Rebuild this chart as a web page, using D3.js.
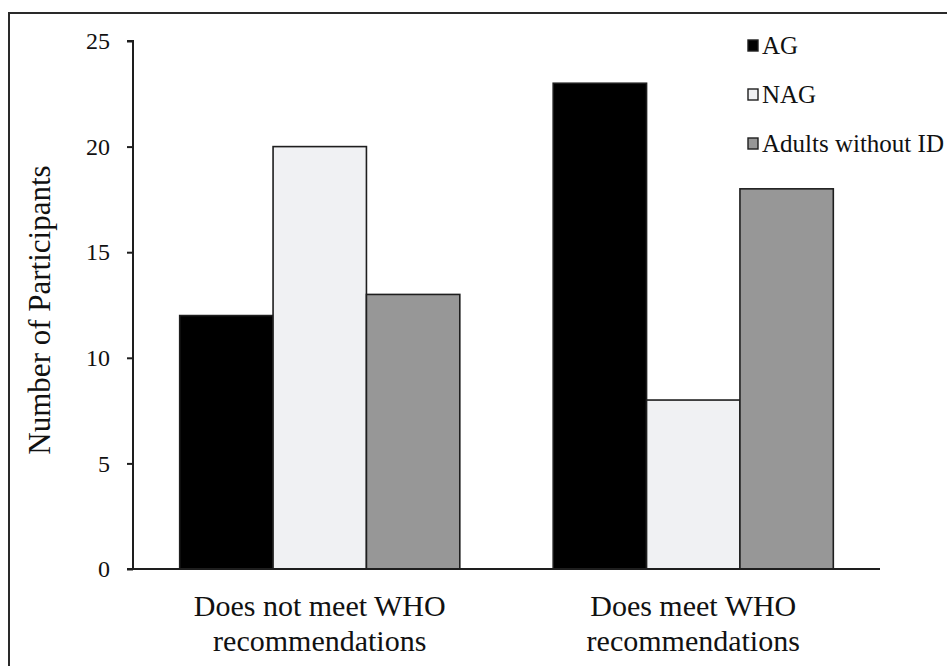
<!DOCTYPE html>
<html>
<head>
<meta charset="utf-8">
<script src="https://cdn.jsdelivr.net/npm/d3@7"></script>
<style>
  html, body { margin: 0; padding: 0; background: #fff; }
  svg text { font-family: "Liberation Serif", "Times New Roman", Times, "DejaVu Serif", serif; }
</style>
</head>
<body>
<div id="chart"></div>
<script>
// --- data ---
const categories = [
  ["Does not meet WHO", "recommendations"],
  ["Does meet WHO", "recommendations"]
];
const seriesNames = ["AG", "NAG", "Adults without ID"];
const agValues = [12, 23];
const nagValues = [20, 8];
const adultsValues = [13, 18];
const yTicks = [0, 5, 10, 15, 20, 25];

const colors = {
  "AG": "#000000",
  "NAG": "#f0f1f3",
  "Adults without ID": "#979797"
};

const W = 947, H = 666;
const padL = 133, padR = 880, padT = 41, padB = 569;
const serif = "'Liberation Serif', 'Times New Roman', Times, 'DejaVu Serif', serif";

const svg = d3.select("#chart").append("svg")
  .attr("width", W)
  .attr("height", H);

// outer frame (runs off the bottom/right edge like the source)
svg.append("rect")
  .attr("x", 9).attr("y", 13)
  .attr("width", W + 20).attr("height", H + 20)
  .attr("fill", "none")
  .attr("stroke", "#2a2a2a")
  .attr("stroke-width", 2);

const catKeys = categories.map(c => c.join(" "));
const x0 = d3.scaleBand()
  .domain(catKeys)
  .range([padL, padR])
  .paddingInner(0.25)
  .paddingOuter(0.125);
const x1 = d3.scaleBand()
  .domain(seriesNames)
  .range([0, x0.bandwidth()]);
const y = d3.scaleLinear().domain([0, 25]).range([padB, padT]);

const rows = catKeys.map((k, i) => ({
  key: k,
  values: [
    { name: "AG", v: agValues[i] },
    { name: "NAG", v: nagValues[i] },
    { name: "Adults without ID", v: adultsValues[i] }
  ]
}));

// bars
const groups = svg.append("g").selectAll("g")
  .data(rows)
  .join("g")
  .attr("transform", d => `translate(${x0(d.key)},0)`);

groups.selectAll("rect")
  .data(d => d.values)
  .join("rect")
  .attr("x", d => x1(d.name))
  .attr("y", d => y(d.v))
  .attr("width", x1.bandwidth())
  .attr("height", d => y(0) - y(d.v))
  .attr("fill", d => colors[d.name])
  .attr("stroke", "#1e1e1e")
  .attr("stroke-width", 1.6);

// y axis
const yAxis = svg.append("g")
  .attr("transform", `translate(${padL},0)`)
  .call(d3.axisLeft(y).tickValues(yTicks).tickSize(6).tickPadding(17));
yAxis.attr("font-family", serif);
yAxis.select(".domain").attr("stroke", "#1e1e1e").attr("stroke-width", 2)
  .attr("d", `M-6,${padT}H0V${padB}`);
yAxis.selectAll(".tick line").attr("stroke", "#1e1e1e").attr("stroke-width", 2);
yAxis.selectAll(".tick text")
  .attr("font-size", 24)
  .attr("fill", "#111");

// x baseline
const xAxis = svg.append("g")
  .attr("transform", `translate(0,${padB})`)
  .call(d3.axisBottom(x0).tickSize(0).tickFormat(""));
xAxis.select(".domain").attr("stroke", "#1e1e1e").attr("stroke-width", 2)
  .attr("d", `M${padL - 6},0H${padR}`);

// category labels (two lines)
const labels = svg.append("g").selectAll("text")
  .data(categories)
  .join("text")
  .attr("x", (d, i) => x0(catKeys[i]) + x0.bandwidth() / 2)
  .attr("y", 616)
  .attr("text-anchor", "middle")
  .attr("font-family", serif)
  .attr("font-size", 30)
  .attr("fill", "#111");
labels.selectAll("tspan")
  .data(d => d)
  .join("tspan")
  .attr("x", function () { return d3.select(this.parentNode).attr("x"); })
  .attr("dy", (d, i) => i === 0 ? 0 : 35)
  .text(d => d);

// y axis title
svg.append("text")
  .attr("transform", `translate(50,310) rotate(-90)`)
  .attr("text-anchor", "middle")
  .attr("font-family", serif)
  .attr("font-size", 31)
  .attr("fill", "#111")
  .text("Number of Participants");

// legend
const legend = svg.append("g").attr("transform", "translate(748,40)");
const li = legend.selectAll("g")
  .data(seriesNames)
  .join("g")
  .attr("transform", (d, i) => `translate(0,${i * 49})`);
li.append("rect")
  .attr("x", 0).attr("y", 0)
  .attr("width", 10).attr("height", 11)
  .attr("fill", d => colors[d])
  .attr("stroke", "#1e1e1e")
  .attr("stroke-width", 1.4);
li.append("text")
  .attr("x", 14)
  .attr("y", 14)
  .attr("font-family", serif)
  .attr("font-size", 25)
  .attr("fill", "#111")
  .text(d => d);
</script>
</body>
</html>
